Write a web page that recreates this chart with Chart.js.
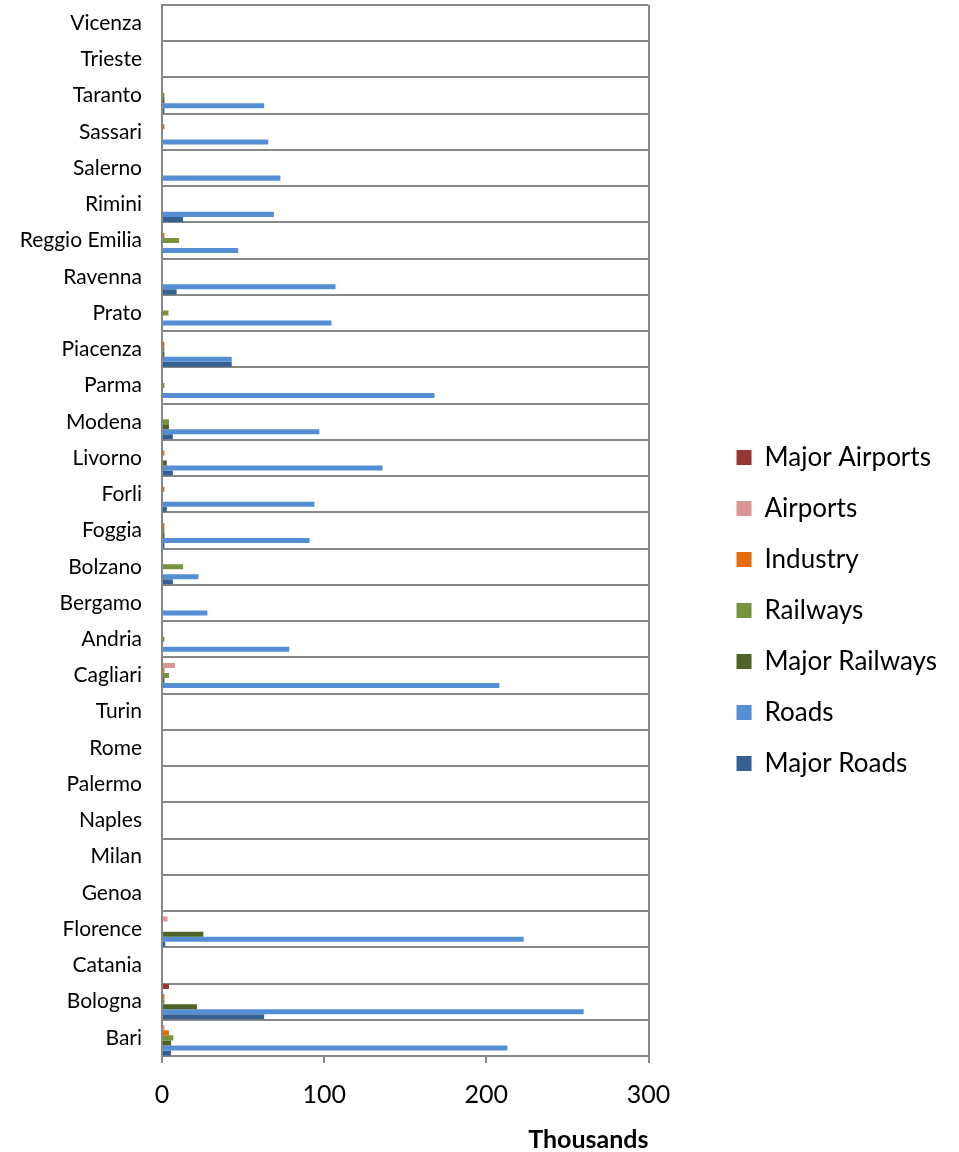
<!DOCTYPE html>
<html lang="en">
<head>
  <meta charset="UTF-8">
  <title>Noise exposure by source</title>
  <script src="https://cdn.jsdelivr.net/npm/chart.js"></script>
  <style>
    body { margin: 0; background: #fff; }
    canvas { display: block; }
  </style>
</head>
<body>
  <canvas id="grafico" width="959" height="1152"></canvas>

  <script>
    // cities, top to bottom as in the picture
    const cities = ['Vicenza','Trieste','Taranto','Sassari','Salerno','Rimini','Reggio Emilia','Ravenna','Prato','Piacenza',
                    'Parma','Modena','Livorno','Forli','Foggia','Bolzano','Bergamo','Andria','Cagliari','Turin',
                    'Rome','Palermo','Naples','Milan','Genoa','Florence','Catania','Bologna','Bari'];

    // values in thousands, same order as cities
    const majorAirports = [0,0,0,0,0,0,0,0,0,0, 0,0,0,0,0,0,0,0,0,0, 0,0,0,0,0,0,0,4.3,0];
    const airports      = [0,0,0,0,0,0,0,0,0,0, 0,0,0,0,0,0,0,0,8,0, 0,0,0,0,0,3.4,0,0,1.5];
    const industry      = [0,0,0,1.5,0,0,1.5,0,0,1.5, 0,0,1.5,1.5,1.5,0,0,0,1.5,0, 0,0,0,0,0,0,0,1.5,4.3];
    const railways      = [0,0,1.5,0,0,0,10.5,0,4,1.5, 1.5,4.3,0,0,1.5,13,0,1.5,4.3,0, 0,0,0,0,0,0,0,1.5,7];
    const majorRailways = [0,0,1.5,0,0,0,0,0,0,1.5, 0,4.3,3,0,1.5,0,0,0,1.5,0, 0,0,0,0,0,25.5,0,21.5,5.6];
    const roads         = [0,0,63,65.5,73,69,47,107,104.5,43, 168,97,136,94,91,22.5,28,78.5,208,0, 0,0,0,0,0,223,0,260,213];
    const majorRoads    = [0,0,1.5,0,0,13,0,9,0,43, 0,6.7,6.7,3,1.5,6.7,0,0,0,0, 0,0,0,0,0,2,0,63,5.6];

    const xTicks = [0, 100, 200, 300];

    const series = [
      { label: 'Major Airports', data: majorAirports, color: '#953735' },
      { label: 'Airports',       data: airports,      color: '#D99694' },
      { label: 'Industry',       data: industry,      color: '#E46C0A' },
      { label: 'Railways',       data: railways,      color: '#77933C' },
      { label: 'Major Railways', data: majorRailways, color: '#4F6228' },
      { label: 'Roads',          data: roads,         color: '#558ED5' },
      { label: 'Major Roads',    data: majorRoads,    color: '#376092' }
    ];

    const fontFamily = "Lato, 'Liberation Sans', sans-serif";
    const gris = '#878787';

    new Chart(document.getElementById('grafico'), {
      type: 'bar',
      data: {
        labels: cities,
        datasets: series.map(s => ({
          label: s.label,
          data: s.data,
          backgroundColor: s.color,
          borderWidth: 0,
          categoryPercentage: 0.97,
          barPercentage: 1.0
        }))
      },
      options: {
        indexAxis: 'y',
        responsive: false,
        animation: false,
        layout: { padding: { top: 5, left: 5, right: 12, bottom: 0 } },
        plugins: {
          tooltip: { enabled: false },
          legend: {
            position: 'right',
            align: 'center',
            maxWidth: 320,
            title: { display: true, text: ' ', padding: { top: 30, bottom: 10 }, font: { size: 20 } },
            labels: {
              color: '#000',
              boxWidth: 15,
              boxHeight: 15,
              padding: 25,
              font: { family: fontFamily, size: 26 }
            }
          }
        },
        scales: {
          x: {
            min: 0,
            max: 300,
            afterBuildTicks: scale => { scale.ticks = xTicks.map(v => ({ value: v })); },
            grid: {
              color: ctx => (ctx.tick && ctx.tick.value === 300) ? gris : 'rgba(0,0,0,0)',
              lineWidth: 2,
              tickColor: gris,
              tickLength: 7
            },
            border: { color: gris, width: 2 },
            ticks: { color: '#000', padding: 17, font: { family: fontFamily, size: 25 } },
            title: {
              display: true,
              text: 'Thousands',
              align: 'end',
              color: '#000',
              padding: { top: 0, bottom: 0 },
              font: { family: fontFamily, size: 25, weight: 'bold', lineHeight: 1 }
            }
          },
          y: {
            grid: { color: gris, lineWidth: 2, drawTicks: false, offset: true },
            border: { color: gris, width: 2 },
            ticks: { color: '#000', padding: 20, font: { family: fontFamily, size: 21 } },
            afterFit: scale => { scale.paddingTop = 0; scale.paddingBottom = 0; }
          },
          spacer: {
            type: 'category',
            position: 'right',
            grid: { display: false },
            border: { display: false },
            ticks: { display: false },
            afterFit: scale => { scale.width = 63; }
          }
        }
      }
    });
  </script>
</body>
</html>
